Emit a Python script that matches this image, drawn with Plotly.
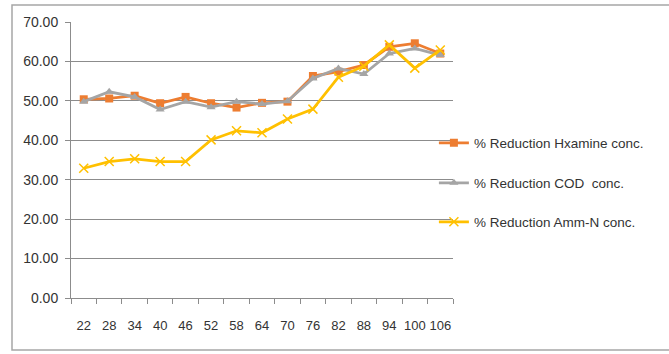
import plotly.graph_objects as go

# Retention time categories
categories = ["22", "28", "34", "40", "46", "52", "58", "64", "70", "76", "82", "88", "94", "100", "106"]

# Percent reductions per series
hexamine = [50.4, 50.6, 51.3, 49.4, 51.0, 49.4, 48.3, 49.5, 49.8, 56.3, 57.4, 59.1, 63.7, 64.6, 62.0]
cod = [49.8, 52.3, 51.0, 47.8, 49.8, 48.4, 49.8, 49.2, 49.9, 55.7, 58.2, 56.8, 62.0, 63.3, 61.6]
amm_n = [32.9, 34.6, 35.3, 34.6, 34.6, 40.1, 42.4, 41.9, 45.4, 47.9, 56.0, 58.8, 64.2, 58.3, 62.9]

y_ticks = [0, 10, 20, 30, 40, 50, 60, 70]

FONT = "Liberation Sans Narrow, Liberation Sans, Arial, sans-serif"
TXT = "#333333"
GRID = "#8c8c8c"

fig = go.Figure()

fig.add_trace(go.Scatter(
    x=categories, y=hexamine, mode="lines+markers",
    name="% Reduction Hxamine conc.",
    line=dict(color="#ED7D31", width=2.75),
    marker=dict(symbol="square", size=8, color="#ED7D31"),
    legend="legend",
))
fig.add_trace(go.Scatter(
    x=categories, y=cod, mode="lines+markers",
    name="% Reduction COD  conc.",
    line=dict(color="#A5A5A5", width=2.75),
    marker=dict(symbol="triangle-up", size=8, color="#A5A5A5"),
    legend="legend2",
))
fig.add_trace(go.Scatter(
    x=categories, y=amm_n, mode="lines+markers",
    name="% Reduction Amm-N conc.",
    line=dict(color="#FFC000", width=2.75),
    marker=dict(symbol="x-thin", size=9, color="#FFC000",
                line=dict(color="#FFC000", width=1.5)),
    legend="legend3",
))

legend_common = dict(
    x=0.95, xanchor="left", yanchor="middle",
    bgcolor="rgba(255,255,255,0)",
    font=dict(family=FONT, size=13.5, color=TXT),
    itemwidth=30,
)

fig.update_layout(
    width=669, height=354,
    margin=dict(l=71, r=216, t=22, b=56),
    paper_bgcolor="white", plot_bgcolor="white",
    font=dict(family=FONT, size=13, color=TXT),
    showlegend=True,
    legend=dict(y=(298 - 143) / 276, **legend_common),
    legend2=dict(y=(298 - 183) / 276, **legend_common),
    legend3=dict(y=(298 - 222) / 276, **legend_common),
    xaxis=dict(
        type="category", range=[-0.5, 14.5],
        showline=True, linecolor=GRID, linewidth=1,
        ticks="outside", tickson="boundaries", ticklen=5, tickcolor=GRID,
        showgrid=False, tickangle=0,
        tickfont=dict(family=FONT, size=13, color=TXT),
        ticklabelstandoff=15,
    ),
    yaxis=dict(
        range=[0, 70], tickvals=y_ticks,
        ticktext=[f"{v:.2f}" for v in y_ticks],
        showline=True, linecolor=GRID, linewidth=1,
        ticks="outside", ticklen=5, tickcolor=GRID,
        showgrid=True, gridcolor=GRID, gridwidth=1,
        zeroline=False, tickfont=dict(family=FONT, size=14, color=TXT),
        ticklabelstandoff=4,
    ),
    shapes=[dict(
        type="rect", xref="paper", yref="paper",
        x0=(12 - 71) / 382, x1=1.6,
        y0=(298 - 350) / 276, y1=(298 - 5) / 276,
        line=dict(color="#a6a6a6", width=1.5), layer="below",
    )],
)

fig.write_html("out.html")
